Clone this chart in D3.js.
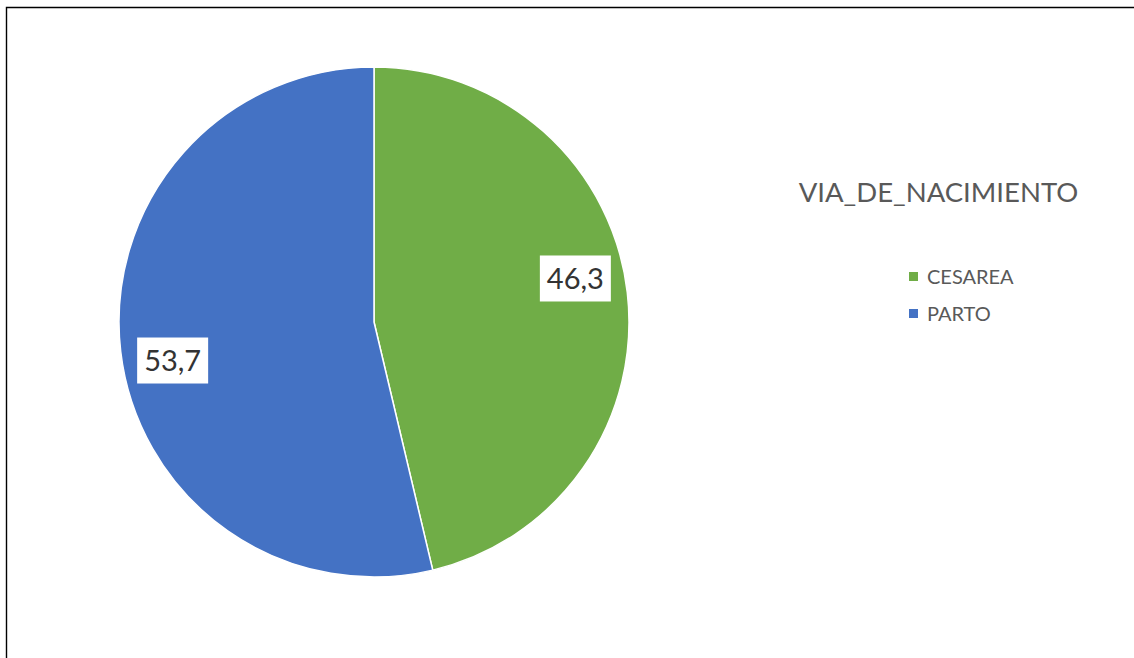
<!DOCTYPE html>
<html>
<head>
<meta charset="utf-8">
<script src="https://cdn.jsdelivr.net/npm/d3@7/dist/d3.min.js"></script>
<style>
  html, body { margin: 0; padding: 0; background: #fff; }
  svg { display: block; }
</style>
</head>
<body>
<svg id="chart" width="1134" height="658"></svg>
<script>
// Birth delivery route shares (%)
const categories = ["CESAREA", "PARTO"];
const values = [46.3, 53.7];
const valueLabels = ["46,3", "53,7"];
const legendTitle = "VIA_DE_NACIMIENTO";
const colors = ["#70AD47", "#4472C4"];

const W = 1134, H = 658;
const svg = d3.select("#chart");

// frame lines along the top and left edge
svg.append("path")
  .attr("d", "M6.5,658 V7.5 H1134")
  .attr("fill", "none")
  .attr("stroke", "#000")
  .attr("stroke-width", 1.4);

const cx = 374, cy = 322, r = 255;
const color = d3.scaleOrdinal().domain(categories).range(colors);

const pie = d3.pie().sort(null).value(d => d.value);
const data = categories.map((c, i) => ({ name: c, value: values[i], label: valueLabels[i] }));
const arcs = pie(data);
const arc = d3.arc().innerRadius(0).outerRadius(r);

const g = svg.append("g").attr("transform", `translate(${cx},${cy})`);
g.selectAll("path.slice")
  .data(arcs)
  .join("path")
  .attr("class", "slice")
  .attr("d", arc)
  .attr("fill", d => color(d.data.name))
  .attr("stroke", "#fff")
  .attr("stroke-width", 1.5)
  .attr("stroke-linejoin", "round");

// value labels in white boxes, placed near the rim with a best-fit nudge
const labelArc = d3.arc().innerRadius(r * 0.795).outerRadius(r * 0.795);
const labelNudge = [[0, -20], [0, 15]];
const lab = g.selectAll("g.lab")
  .data(arcs)
  .join("g")
  .attr("class", "lab")
  .attr("transform", (d, i) => {
    const [x, y] = labelArc.centroid(d);
    return `translate(${x + labelNudge[i][0]},${y + labelNudge[i][1]})`;
  });

lab.append("rect")
  .attr("x", -35.5)
  .attr("y", -23)
  .attr("width", 71)
  .attr("height", 46)
  .attr("fill", "#fff");

lab.append("text")
  .attr("text-anchor", "middle")
  .attr("dy", "0.36em")
  .attr("font-family", "Lato, 'Open Sans', sans-serif")
  .attr("font-size", 29)
  .attr("fill", "#333")
  .text(d => d.data.label);

// legend
svg.append("text")
  .attr("x", 938.5)
  .attr("y", 202)
  .attr("text-anchor", "middle")
  .attr("font-family", "Lato, 'Open Sans', sans-serif")
  .attr("font-size", 27.5)
  .attr("fill", "#595959")
  .text(legendTitle);

const legend = svg.append("g").attr("transform", "translate(909,272)");
const item = legend.selectAll("g")
  .data(categories)
  .join("g")
  .attr("transform", (d, i) => `translate(0,${i * 37})`);
item.append("rect")
  .attr("width", 9)
  .attr("height", 9)
  .attr("fill", d => color(d));
item.append("text")
  .attr("x", 18)
  .attr("y", 11.5)
  .attr("font-family", "Lato, 'Open Sans', sans-serif")
  .attr("font-size", 20)
  .attr("fill", "#595959")
  .text(d => d);
</script>
</body>
</html>
